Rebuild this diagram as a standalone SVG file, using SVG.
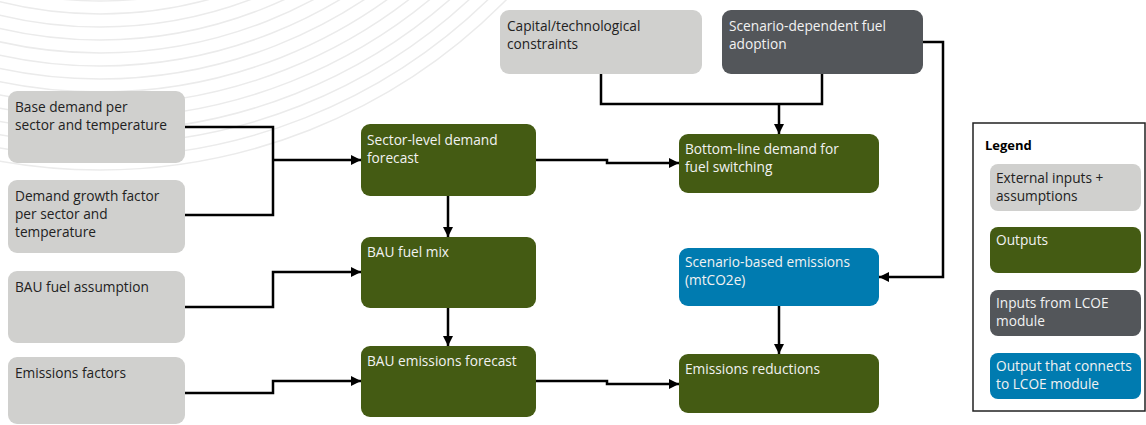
<svg xmlns="http://www.w3.org/2000/svg" width="1146" height="425" viewBox="0 0 1146 425">
<defs>
<marker id="arr" viewBox="0 0 10 10" refX="10" refY="5" markerWidth="4" markerHeight="4" markerUnits="strokeWidth" orient="auto">
<path d="M0,0 L10,5 L0,10 z" fill="#000"/>
</marker>
<style>
.bg{fill:none;stroke:#ebebeb;stroke-width:1.5}
.ext{fill:#d0d0ce}
.out{fill:#445b13}
.lcoe{fill:#53565a}
.blue{fill:#007bb0}
text{font-family:"Open Sans","Liberation Sans",sans-serif;font-size:13.7px}
.dk{fill:#222}
.lt{fill:#f2f2f2}
.c{fill:none;stroke:#000;stroke-width:2.5}
.ca{fill:none;stroke:#000;stroke-width:2.5;marker-end:url(#arr)}
</style>
</defs>
<rect width="1146" height="425" fill="#fff"/>
<g id="background">
<circle class="bg" cx="100" cy="-400" r="401"/>
<circle class="bg" cx="100" cy="-400" r="414"/>
<circle class="bg" cx="100" cy="-400" r="427"/>
<circle class="bg" cx="100" cy="-400" r="440"/>
<circle class="bg" cx="100" cy="-400" r="453"/>
<circle class="bg" cx="100" cy="-400" r="466"/>
<circle class="bg" cx="100" cy="-400" r="479"/>
<circle class="bg" cx="100" cy="-400" r="492"/>
<circle class="bg" cx="100" cy="-400" r="505"/>
<circle class="bg" cx="100" cy="-400" r="518"/>
<circle class="bg" cx="100" cy="-400" r="531"/>
<circle class="bg" cx="100" cy="-400" r="544"/>
<circle class="bg" cx="100" cy="-400" r="557"/>
<circle class="bg" cx="100" cy="-400" r="570"/>
</g>
<g id="connectors">
<path class="c" d="M185,127 H273 V215 H185"/>
<path class="ca" d="M273,160 H361"/>
<path class="ca" d="M536,160 H607 V163 H679"/>
<path class="ca" d="M448,196 V237"/>
<path class="ca" d="M185,307 H273 V272 H361"/>
<path class="ca" d="M448,308 V346"/>
<path class="ca" d="M185,393 H273 V381 H361"/>
<path class="ca" d="M536,381 H607 V384 H679"/>
<path class="c" d="M601,74 V104 H822 V74"/>
<path class="ca" d="M779,104 V134"/>
<path class="ca" d="M923,42 H943 V277 H879"/>
<path class="ca" d="M779,306 V354"/>
</g>
<g id="base-demand">
<rect class="ext" x="8" y="91" width="177" height="72" rx="9"/>
<text class="dk" x="15" y="112">Base demand per</text>
<text class="dk" x="15" y="130">sector and temperature</text>
</g>
<g id="demand-growth">
<rect class="ext" x="8" y="180" width="177" height="73" rx="9"/>
<text class="dk" x="15" y="201">Demand growth factor</text>
<text class="dk" x="15" y="219">per sector and</text>
<text class="dk" x="15" y="237">temperature</text>
</g>
<g id="bau-fuel-assumption">
<rect class="ext" x="8" y="271" width="177" height="72" rx="9"/>
<text class="dk" x="15" y="292">BAU fuel assumption</text>
</g>
<g id="emissions-factors">
<rect class="ext" x="8" y="357" width="177" height="67" rx="9"/>
<text class="dk" x="15" y="378">Emissions factors</text>
</g>
<g id="sector-level">
<rect class="out" x="361" y="124" width="175" height="72" rx="9"/>
<text class="lt" x="367" y="145">Sector-level demand</text>
<text class="lt" x="367" y="163">forecast</text>
</g>
<g id="bau-fuel-mix">
<rect class="out" x="361" y="237" width="175" height="71" rx="9"/>
<text class="lt" x="367" y="257">BAU fuel mix</text>
</g>
<g id="bau-emissions">
<rect class="out" x="361" y="346" width="175" height="71" rx="9"/>
<text class="lt" x="367" y="366">BAU emissions forecast</text>
</g>
<g id="capital">
<rect class="ext" x="500" y="10" width="202" height="64" rx="9"/>
<text class="dk" x="507" y="31">Capital/technological</text>
<text class="dk" x="507" y="49">constraints</text>
</g>
<g id="scenario-fuel">
<rect class="lcoe" x="722" y="10" width="201" height="64" rx="9"/>
<text class="lt" x="729" y="31">Scenario-dependent fuel</text>
<text class="lt" x="729" y="49">adoption</text>
</g>
<g id="bottom-line">
<rect class="out" x="679" y="134" width="200" height="59" rx="9"/>
<text class="lt" x="685" y="154">Bottom-line demand for</text>
<text class="lt" x="685" y="172">fuel switching</text>
</g>
<g id="scenario-emissions">
<rect class="blue" x="679" y="248" width="200" height="58" rx="9"/>
<text class="lt" x="685" y="267">Scenario-based emissions</text>
<text class="lt" x="685" y="285">(mtCO2e)</text>
</g>
<g id="emissions-reductions">
<rect class="out" x="679" y="354" width="200" height="59" rx="9"/>
<text class="lt" x="685" y="374">Emissions reductions</text>
</g>
<g id="legend">
<rect x="973" y="123" width="172" height="288" fill="#fff" stroke="#222" stroke-width="1.5"/>
<text x="985" y="150" style="font-weight:bold;font-size:13px" fill="#000">Legend</text>
<rect class="ext" x="990" y="164" width="151" height="47" rx="8"/>
<text class="dk" x="996" y="183">External inputs +</text>
<text class="dk" x="996" y="201">assumptions</text>
<rect class="out" x="990" y="227" width="151" height="46" rx="8"/>
<text class="lt" x="996" y="245">Outputs</text>
<rect class="lcoe" x="990" y="290" width="151" height="46" rx="8"/>
<text class="lt" x="996" y="308">Inputs from LCOE</text>
<text class="lt" x="996" y="326">module</text>
<rect class="blue" x="990" y="353" width="151" height="46" rx="8"/>
<text class="lt" x="996" y="371">Output that connects</text>
<text class="lt" x="996" y="389">to LCOE module</text>
</g>
</svg>
